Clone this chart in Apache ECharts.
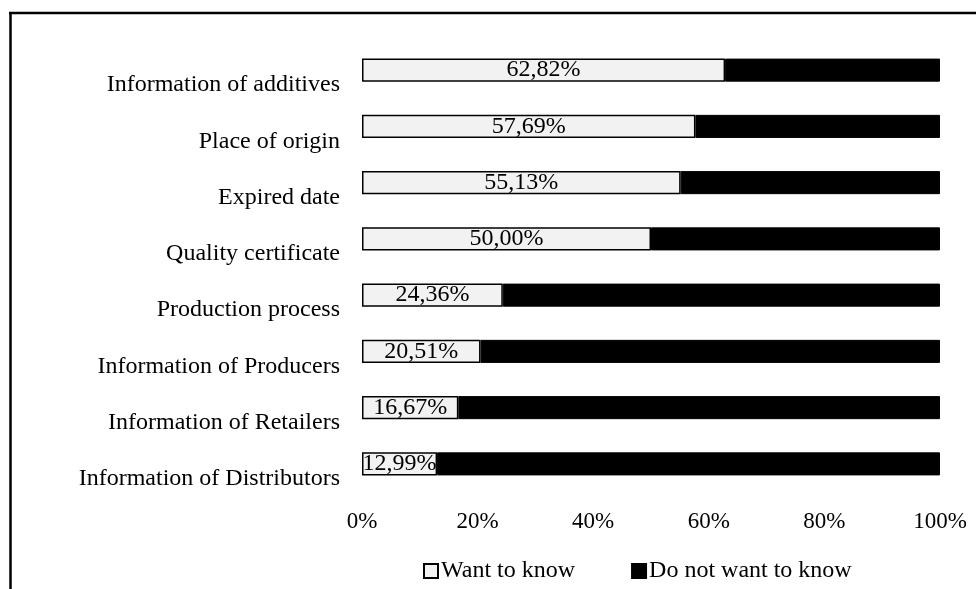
<!DOCTYPE html>
<html>
<head>
<meta charset="utf-8">
<script src="https://cdn.jsdelivr.net/npm/echarts@6/dist/echarts.min.js"></script>
<style>html,body{margin:0;padding:0;background:#fff;}#c{width:976px;height:589px;}</style>
</head>
<body>
<div id="c"></div>
<script>
const categories = ["Information of additives","Place of origin","Expired date","Quality certificate","Production process","Information of Producers","Information of Retailers","Information of Distributors"];
const wantToKnow = [62.82, 57.69, 55.13, 50.00, 24.36, 20.51, 16.67, 12.99];
const doNotWantToKnow = [37.18, 42.31, 44.87, 50.00, 75.64, 79.49, 83.33, 87.01];
const xTicks = [0, 20, 40, 60, 80, 100];
const seriesNames = ["Want to know", "Do not want to know"];

const FONT = "'Liberation Serif','Times New Roman',serif";
const chart = echarts.init(document.getElementById('c'));
chart.setOption({
  animation: false,
  backgroundColor: '#fff',
  textStyle: { fontFamily: FONT, color: '#000' },
  graphic: [
    { type: 'line', shape: { x1: 9, y1: 13, x2: 976, y2: 13 }, style: { stroke: '#000', lineWidth: 2.5 } },
    { type: 'line', shape: { x1: 10.5, y1: 12, x2: 10.5, y2: 589 }, style: { stroke: '#000', lineWidth: 2.5 } }
  ],
  grid: { left: 362, right: 36, top: 42, bottom: 97, containLabel: false },
  legend: {
    left: 418, top: 554,
    itemWidth: 14, itemHeight: 14, itemGap: 56,
    icon: 'rect',
    textStyle: { fontFamily: FONT, fontSize: 24, color: '#000', padding: [0,0,0,-2] },
    data: seriesNames
  },
  xAxis: {
    type: 'value', min: xTicks[0], max: xTicks[xTicks.length-1], interval: 20,
    axisLine: { show: false }, axisTick: { show: false }, splitLine: { show: false },
    axisLabel: { formatter: '{value}%', fontFamily: FONT, fontSize: 23, color: '#000', margin: 18 }
  },
  yAxis: {
    type: 'category', data: categories, inverse: true,
    axisLine: { show: false }, axisTick: { show: false },
    axisLabel: { fontFamily: FONT, fontSize: 24, color: '#000', margin: 22, verticalAlign: 'top', padding: [3,0,0,0] }
  },
  series: [
    {
      name: seriesNames[0], type: 'bar', stack: 'a', data: wantToKnow, barWidth: '41%',
      itemStyle: { color: '#f2f2f2', borderColor: '#000', borderWidth: 1.5 },
      label: { show: true, position: 'inside', fontFamily: FONT, fontSize: 24, color: '#000',
        formatter: p => p.value.toFixed(2).replace('.', ',') + '%' }
    },
    {
      name: seriesNames[1], type: 'bar', stack: 'a', data: doNotWantToKnow, barWidth: '41%',
      itemStyle: { color: '#000', borderColor: '#000', borderWidth: 1 }
    }
  ]
});
</script>
</body>
</html>
